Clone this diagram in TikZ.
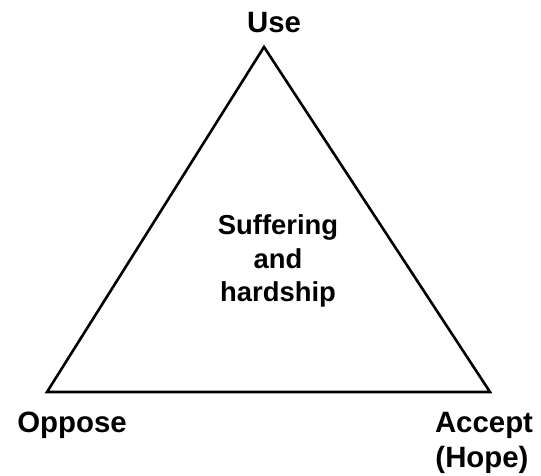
\documentclass[tikz,border=0pt]{standalone}
\usepackage{fontspec}
\setmainfont{Liberation Sans}
\begin{document}
\begin{tikzpicture}[x=1bp,y=-1bp,
  lbl/.style={font=\fontsize{29.5}{35}\selectfont\bfseries, inner sep=0pt, align=center},
  midlbl/.style={font=\fontsize{27.5}{34}\selectfont\bfseries, inner sep=0pt, align=center},
  edge/.style={line width=2.6bp, line join=miter}]
\useasboundingbox (0,0) rectangle (541,476);
\coordinate (top) at (264,47);
\coordinate (bl) at (47,392);
\coordinate (br) at (490,392);
\draw[edge] (top) -- (bl) -- (br) -- cycle;
\node[lbl, anchor=base] (use) at (274,33) {Use};
\node[lbl, anchor=base] (oppose) at (72,432) {Oppose};
\node[lbl, anchor=base] (accept) at (484,432) {Accept};
\node[lbl, anchor=base] (hope) at (482,467) {(Hope)};
\node[midlbl] (center) at (278,261) {Suffering\\and\\hardship};
\end{tikzpicture}
\end{document}
